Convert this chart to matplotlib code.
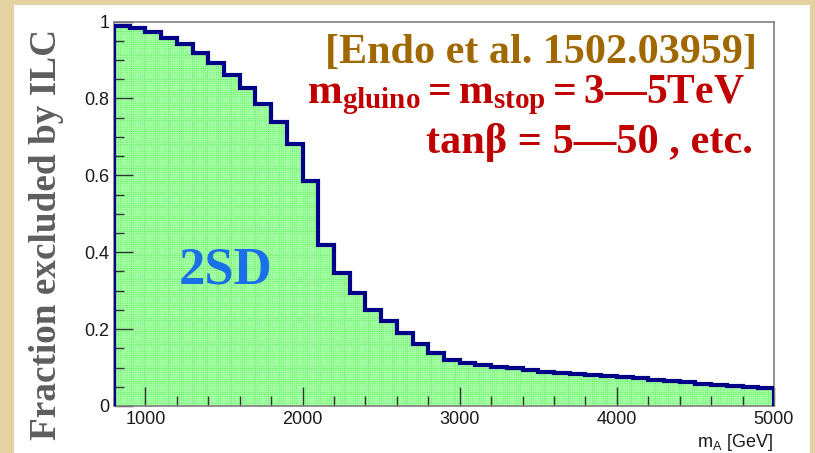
import numpy as np
import matplotlib
matplotlib.use("Agg")
import matplotlib.pyplot as plt
from matplotlib.patches import Rectangle
from matplotlib.ticker import MultipleLocator, FixedLocator

# ---- data ----
bin_edges = list(range(800, 5001, 100))
fraction_excluded = [
    0.989, 0.982, 0.972, 0.956, 0.941, 0.917, 0.893, 0.860, 0.826, 0.785,
    0.738, 0.681, 0.586, 0.420, 0.345, 0.293, 0.250, 0.220, 0.189, 0.162,
    0.139, 0.120, 0.112, 0.106, 0.101, 0.098, 0.094, 0.089, 0.087, 0.084,
    0.081, 0.078, 0.076, 0.072, 0.067, 0.065, 0.063, 0.058, 0.055, 0.052,
    0.050, 0.046,
]
x_ticks = [1000, 2000, 3000, 4000, 5000]
x_tick_labels = ["1000", "2000", "3000", "4000", "5000"]
y_ticks = [0, 0.2, 0.4, 0.6, 0.8, 1.0]
y_tick_labels = ["0", "0.2", "0.4", "0.6", "0.8", "1"]

plt.rcParams['mathtext.fontset'] = 'custom'
plt.rcParams['mathtext.bf'] = 'Liberation Serif:bold'
plt.rcParams['mathtext.rm'] = 'Liberation Serif:bold'
plt.rcParams['mathtext.it'] = 'Liberation Serif:bold'
plt.rcParams['mathtext.sf'] = 'Liberation Sans'
plt.rcParams['hatch.linewidth'] = 0.6

W, H = 815, 453
fig = plt.figure(figsize=(W / 100, H / 100), dpi=100)
fig.patch.set_facecolor('#E4D3A0')
fig.add_artist(Rectangle((14 / W, 0), (810 - 14) / W, (H - 5) / H,
                         transform=fig.transFigure, facecolor='white',
                         edgecolor='none', zorder=0))

ax = fig.add_axes([114 / W, 1 - 406 / H, (774 - 114) / W, (406 - 21.5) / H])
ax.set_facecolor('white')

ax.stairs(fraction_excluded, bin_edges, fill=True, facecolor='#55EC55',
          edgecolor='#A8FFA8', hatch='+' * 9, linewidth=0, zorder=1)
ax.stairs(fraction_excluded, bin_edges, fill=False, color='#000088',
          linewidth=3.0, zorder=3)

ax.set_xlim(800, 5000)
ax.set_ylim(0, 1.0)

ax.xaxis.set_major_locator(FixedLocator(x_ticks))
ax.set_xticklabels(x_tick_labels)
ax.xaxis.set_minor_locator(MultipleLocator(200))
ax.yaxis.set_major_locator(FixedLocator(y_ticks))
ax.set_yticklabels(y_tick_labels)
ax.yaxis.set_minor_locator(MultipleLocator(0.05))

ax.tick_params(which='both', direction='in', top=False, right=False,
               color='#333333', width=1.0)
ax.tick_params(which='major', length=13.5, labelsize=13, pad=3.5,
               labelcolor='#1a1a1a')
ax.tick_params(which='minor', length=7)
for lab in ax.get_xticklabels() + ax.get_yticklabels():
    lab.set_family('Liberation Sans')

for sp in ax.spines.values():
    sp.set_color('#808080')
    sp.set_linewidth(1.2)

def fx(px):
    return px / W

def fy(py):
    return 1 - py / H

fig.text(fx(47), fy(234), 'Fraction excluded by ILC', rotation=90,
         ha='center', va='center', family='Liberation Serif',
         weight='bold', size=26.8, color='#5E5E5E')

fig.text(fx(773), fy(447), r'$\mathsf{m_A\ [GeV]}$', ha='right',
         va='baseline', size=13, color='#1a1a1a')

fig.text(fx(757), fy(63), '[Endo et al. 1502.03959]', ha='right',
         va='baseline', family='Liberation Serif', weight='bold',
         size=30.3, color='#A06800')
fig.text(fx(745), fy(103),
         r'$\mathbf{m_{gluino} = m_{stop} = 3—5TeV}$',
         ha='right', va='baseline', size=30, color='#C00000')
fig.text(fx(753), fy(153), 'tanβ = 5—50 , etc.', ha='right',
         va='baseline', family='Liberation Serif', weight='bold',
         size=30.5, color='#C00000')

fig.text(fx(226), fy(284), '2SD', ha='center', va='baseline',
         family='Liberation Serif', weight='bold', size=38,
         color='#1A70E8', zorder=5)

fig.savefig('out.png', dpi=100, facecolor=fig.get_facecolor())
